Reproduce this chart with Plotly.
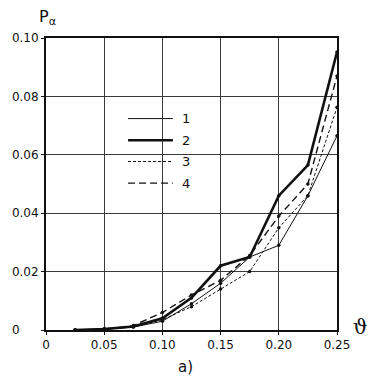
import plotly.graph_objects as go

# Data
theta = [0.025, 0.05, 0.075, 0.10, 0.125, 0.15, 0.175, 0.20, 0.225, 0.25]
p1 = [0.0, 0.0003, 0.0010, 0.0030, 0.0090, 0.0160, 0.0250, 0.0290, 0.0460, 0.0665]
p2 = [0.0, 0.0003, 0.0012, 0.0040, 0.0110, 0.0220, 0.0250, 0.0460, 0.0565, 0.0952]
p3 = [0.0, 0.0003, 0.0010, 0.0035, 0.0080, 0.0140, 0.0200, 0.0350, 0.0460, 0.0763]
p4 = [0.0, 0.0003, 0.0015, 0.0060, 0.0120, 0.0170, 0.0255, 0.0390, 0.0500, 0.0870]
series_names = ["1", "2", "3", "4"]
series_values = [p1, p2, p3, p4]

x_ticks = [0, 0.05, 0.10, 0.15, 0.20, 0.25]
x_ticklabels = ["0", "0.05", "0.10", "0.15", "0.20", "0.25"]
y_ticks = [0, 0.02, 0.04, 0.06, 0.08, 0.10]
y_ticklabels = ["0&nbsp;&nbsp;&nbsp;&nbsp;&nbsp;", "0.02", "0.04", "0.06", "0.08", "0.10"]

styles = [
    dict(width=1.0, dash="solid"),
    dict(width=2.6, dash="solid"),
    dict(width=1.0, dash="3px,2px"),
    dict(width=1.4, dash="7px,4px"),
]
INK = "#111111"
FONT = "DejaVu Sans"

fig = go.Figure()
for name, vals, st in zip(series_names, series_values, styles):
    fig.add_trace(go.Scatter(
        x=theta, y=vals, name=name, mode="lines+markers",
        line=dict(color=INK, width=st["width"], dash=st["dash"]),
        marker=dict(size=3.5, color=INK),
        showlegend=False,
    ))

# Hand-drawn style legend (paper coordinates)
leg_y = [0.724, 0.65, 0.577, 0.503]
for name, st, yy in zip(series_names, styles, leg_y):
    fig.add_shape(type="line", xref="paper", yref="paper",
                  x0=0.282, x1=0.436, y0=yy, y1=yy,
                  line=dict(color=INK, width=st["width"], dash=st["dash"]))
    fig.add_annotation(xref="paper", yref="paper", x=0.462, y=yy,
                       text=name, showarrow=False, xanchor="left", yanchor="middle",
                       font=dict(family=FONT, size=13, color=INK))

fig.update_xaxes(
    range=[0, 0.25], tickvals=x_ticks, ticktext=x_ticklabels,
    showgrid=True, gridcolor="#3a3a3a", gridwidth=1,
    showline=True, linecolor=INK, linewidth=1.5, mirror=True,
    ticks="outside", ticklen=3, tickcolor=INK,
    tickfont=dict(family=FONT, size=12, color=INK), zeroline=False,
)
fig.update_yaxes(
    range=[0, 0.10], tickvals=y_ticks, ticktext=y_ticklabels,
    showgrid=True, gridcolor="#3a3a3a", gridwidth=1,
    showline=True, linecolor=INK, linewidth=2, mirror=True,
    ticks="outside", ticklen=3, tickcolor=INK,
    tickfont=dict(family=FONT, size=12, color=INK), zeroline=False,
)

fig.add_annotation(xref="paper", yref="paper", x=0.0, y=1.0, xanchor="center", yanchor="bottom",
                   yshift=8, xshift=1, text="P<sub>α</sub>", showarrow=False,
                   font=dict(family=FONT, size=16, color=INK))
fig.add_annotation(xref="paper", yref="paper", x=1.0, y=0.0, xanchor="left", yanchor="middle",
                   xshift=14, yshift=3, text="ϑ", showarrow=False,
                   font=dict(family="DejaVu Serif", size=20, color=INK))
fig.add_annotation(xref="paper", yref="paper", x=0.48, y=0.0, xanchor="center", yanchor="top",
                   yshift=-26, text="a)", showarrow=False,
                   font=dict(family=FONT, size=15, color=INK))

fig.update_layout(
    width=371, height=382,
    margin=dict(l=46, r=34, t=38, b=52),
    plot_bgcolor="white", paper_bgcolor="white",
)
fig.write_html("out.html", config={"displayModeBar": False},
               post_script="document.body.style.margin='0';document.body.style.overflow='hidden';")
